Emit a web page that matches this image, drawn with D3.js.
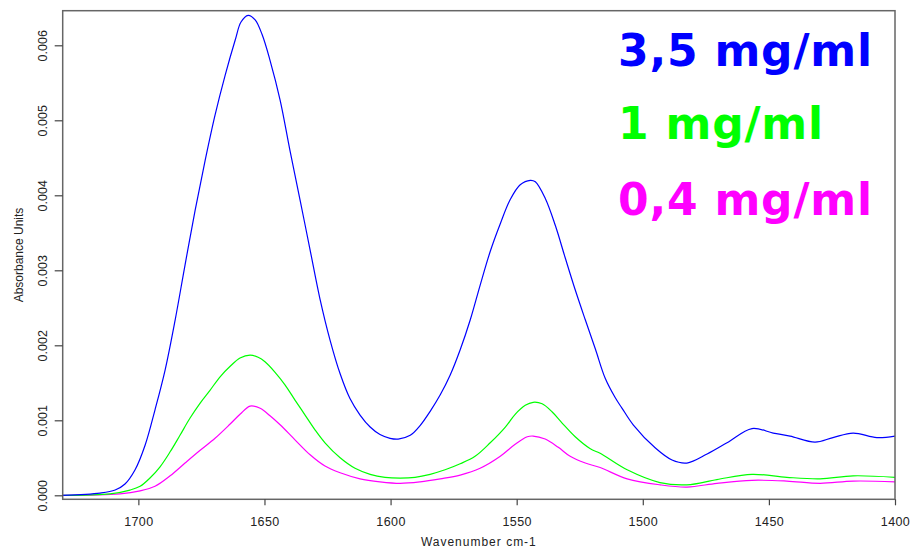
<!DOCTYPE html>
<html>
<head>
<meta charset="utf-8">
<script src="https://cdn.jsdelivr.net/npm/d3@7"></script>
<style>
  html, body { margin: 0; padding: 0; background: #fff; }
  svg { display: block; }
</style>
</head>
<body>
<div id="chart"></div>
<script>
// ---- data (wavenumber cm-1, absorbance) ----
const seriesNames = ["3,5 mg/ml", "1 mg/ml", "0,4 mg/ml"];
const seriesColors = ["#0000ff", "#00ff00", "#ff00ff"];

const wnBlue = [1730, 1715.2, 1709.2, 1705.3, 1701.3, 1697.3, 1693.4, 1689.4, 1685.4, 1681.5, 1677.5, 1673.5, 1669.6, 1665.6, 1661.6, 1659.3, 1656.5, 1653.7, 1650.9, 1647.8, 1643.8, 1639.9, 1635.9, 1631.9, 1628.0, 1624.0, 1620.0, 1616.1, 1612.1, 1608.1, 1604.2, 1600.2, 1597.0, 1592.2, 1588.3, 1584.3, 1580.3, 1576.4, 1572.4, 1568.4, 1564.5, 1560.5, 1556.5, 1552.6, 1548.6, 1544.6, 1542.6, 1538.7, 1534.7, 1530.7, 1526.8, 1522.8, 1518.8, 1514.9, 1510.9, 1508.2, 1503.8, 1495.0, 1488.4, 1482.5, 1474.5, 1466.6, 1456.7, 1448.3, 1441.6, 1431.7, 1424.6, 1416.6, 1407.2, 1400];
const absBlue = [0.00000, 0.00003, 0.00007, 0.00015, 0.00034, 0.00067, 0.00114, 0.00167, 0.00234, 0.00307, 0.00380, 0.00447, 0.00507, 0.00560, 0.00607, 0.00631, 0.00640, 0.00634, 0.00614, 0.00580, 0.00527, 0.00460, 0.00394, 0.00327, 0.00262, 0.00207, 0.00162, 0.00129, 0.00107, 0.00091, 0.00081, 0.00076, 0.00075, 0.00080, 0.00093, 0.00112, 0.00134, 0.00160, 0.00194, 0.00234, 0.00280, 0.00325, 0.00362, 0.00394, 0.00414, 0.00420, 0.00418, 0.00396, 0.00360, 0.00316, 0.00274, 0.00234, 0.00195, 0.00156, 0.00130, 0.00116, 0.00094, 0.00063, 0.00047, 0.00043, 0.00055, 0.00070, 0.00089, 0.00083, 0.00079, 0.00071, 0.00077, 0.00083, 0.00077, 0.00079];

const wnGreen = [1730, 1711.2, 1703.3, 1699.3, 1695.4, 1691.4, 1687.4, 1683.5, 1679.5, 1675.5, 1671.6, 1667.6, 1663.6, 1659.7, 1655.7, 1652.5, 1649.8, 1645.8, 1641.8, 1637.9, 1633.9, 1629.9, 1626.0, 1620.0, 1614.1, 1608.1, 1602.2, 1596.2, 1590.3, 1584.3, 1578.4, 1572.4, 1566.5, 1560.5, 1554.5, 1550.6, 1546.6, 1543.5, 1539.9, 1535.9, 1531.9, 1526.8, 1520.8, 1516.9, 1506.2, 1493.2, 1482.5, 1470.6, 1456.7, 1442.9, 1429.7, 1416.6, 1400];
const absGreen = [0.00000, 0.00002, 0.00007, 0.00012, 0.00023, 0.00038, 0.00058, 0.00080, 0.00103, 0.00123, 0.00140, 0.00158, 0.00172, 0.00183, 0.00187, 0.00184, 0.00178, 0.00164, 0.00147, 0.00127, 0.00107, 0.00087, 0.00070, 0.00050, 0.00036, 0.00028, 0.00024, 0.00023, 0.00024, 0.00028, 0.00034, 0.00042, 0.00052, 0.00070, 0.00091, 0.00108, 0.00120, 0.00124, 0.00122, 0.00111, 0.00096, 0.00078, 0.00062, 0.00056, 0.00034, 0.00017, 0.00014, 0.00021, 0.00028, 0.00024, 0.00022, 0.00026, 0.00024];

const wnMagenta = [1730, 1707.3, 1699.3, 1693.4, 1687.4, 1681.5, 1675.5, 1669.6, 1663.6, 1659.7, 1655.7, 1651.7, 1647.8, 1643.8, 1637.9, 1631.9, 1626.0, 1620.0, 1612.1, 1604.2, 1596.2, 1588.3, 1580.3, 1572.4, 1564.5, 1556.5, 1550.6, 1545.8, 1543.5, 1538.7, 1533.5, 1528.8, 1522.8, 1516.9, 1506.2, 1493.2, 1482.5, 1470.6, 1456.7, 1442.9, 1429.7, 1416.6, 1400];
const absMagenta = [0.00000, 0.00002, 0.00006, 0.00012, 0.00026, 0.00043, 0.00060, 0.00076, 0.00095, 0.00108, 0.00119, 0.00116, 0.00106, 0.00094, 0.00074, 0.00054, 0.00039, 0.00030, 0.00022, 0.00018, 0.00016, 0.00018, 0.00022, 0.00027, 0.00036, 0.00052, 0.00068, 0.00078, 0.00079, 0.00075, 0.00064, 0.00052, 0.00043, 0.00037, 0.00022, 0.00014, 0.00011, 0.00016, 0.00020, 0.00019, 0.00016, 0.00019, 0.00018];

const xTicks = [1700, 1650, 1600, 1550, 1500, 1450, 1400];
const yTicks = [0.000, 0.001, 0.002, 0.003, 0.004, 0.005, 0.006];
const xDomain = [1730, 1400];
const yDomain = [-0.0000533, 0.0064613];
const xTitle = "Wavenumber cm-1";
const yTitle = "Absorbance Units";

// ---- layout ----
const W = 910, H = 549;
const mLeft = 62.7, mRight = 895, mTop = 10.7, mBottom = 499.3;

const svg = d3.select("#chart").append("svg")
  .attr("width", W).attr("height", H);

const x = d3.scaleLinear().domain(xDomain).range([mLeft, mRight]);
const y = d3.scaleLinear().domain(yDomain).range([mBottom, mTop]);

const series = [
  { name: seriesNames[2], color: seriesColors[2], wn: wnMagenta, v: absMagenta },
  { name: seriesNames[1], color: seriesColors[1], wn: wnGreen, v: absGreen },
  { name: seriesNames[0], color: seriesColors[0], wn: wnBlue, v: absBlue }
];

const line = d3.line()
  .x(d => x(d[0])).y(d => y(d[1]))
  .curve(d3.curveCatmullRom.alpha(0.5));

svg.append("clipPath").attr("id", "clip")
  .append("rect").attr("x", mLeft).attr("y", mTop)
  .attr("width", mRight - mLeft).attr("height", mBottom - mTop);

const g = svg.append("g").attr("clip-path", "url(#clip)");
series.forEach(s => {
  const pts = s.wn.map((w, i) => [w, s.v[i]]);
  g.append("path").datum(pts)
    .attr("d", line)
    .attr("fill", "none")
    .attr("stroke", s.color)
    .attr("stroke-width", 1.2)
    .attr("stroke-linejoin", "round");
});

// frame
svg.append("rect")
  .attr("x", mLeft).attr("y", mTop)
  .attr("width", mRight - mLeft).attr("height", mBottom - mTop)
  .attr("fill", "none").attr("stroke", "#666").attr("stroke-width", 1.5);

// x axis
const xAxis = svg.append("g").attr("transform", `translate(0,${mBottom})`)
  .call(d3.axisBottom(x).tickValues(xTicks).tickFormat(d3.format("d")).tickSize(6).tickSizeOuter(0));
xAxis.select(".domain").remove();
xAxis.selectAll(".tick line").attr("stroke", "#444").attr("stroke-width", 1.2);
xAxis.selectAll(".tick text")
  .attr("y", 18).attr("dy", "0.71em")
  .attr("font-family", "Liberation Sans, Arial, sans-serif")
  .attr("font-size", "12.5px").attr("fill", "#222")
  .attr("letter-spacing", "0.4px");

// y axis
const yAxis = svg.append("g").attr("transform", `translate(${mLeft},0)`)
  .call(d3.axisLeft(y).tickValues(yTicks).tickFormat(d3.format(".3f")).tickSize(8).tickSizeOuter(0));
yAxis.select(".domain").remove();
yAxis.selectAll(".tick line").attr("stroke", "#444").attr("stroke-width", 1.2);
yAxis.selectAll(".tick text")
  .attr("x", null).attr("dy", null)
  .attr("transform", "translate(-16,0) rotate(-90)")
  .attr("text-anchor", "middle")
  .attr("font-family", "Liberation Sans, Arial, sans-serif")
  .attr("font-size", "12.5px").attr("fill", "#222");

// titles
svg.append("text")
  .attr("x", (mLeft + mRight) / 2).attr("y", 546)
  .attr("text-anchor", "middle")
  .attr("font-family", "Liberation Sans, Arial, sans-serif")
  .attr("font-size", "12px").attr("fill", "#222")
  .attr("letter-spacing", "1px")
  .text(xTitle);

svg.append("text")
  .attr("transform", `translate(23,${(mTop + mBottom) / 2}) rotate(-90)`)
  .attr("text-anchor", "middle")
  .attr("font-family", "Liberation Sans, Arial, sans-serif")
  .attr("font-size", "12px").attr("fill", "#222")
  .text(yTitle);

// legend labels
const legendY = [66, 139, 215];
seriesNames.forEach((n, i) => {
  svg.append("text")
    .attr("x", 618).attr("y", legendY[i])
    .attr("font-family", "DejaVu Sans, Verdana, sans-serif")
    .attr("font-weight", "bold")
    .attr("font-size", "44px")
    .attr("letter-spacing", "0.8px")
    .attr("fill", seriesColors[i])
    .text(n);
});
</script>
</body>
</html>
